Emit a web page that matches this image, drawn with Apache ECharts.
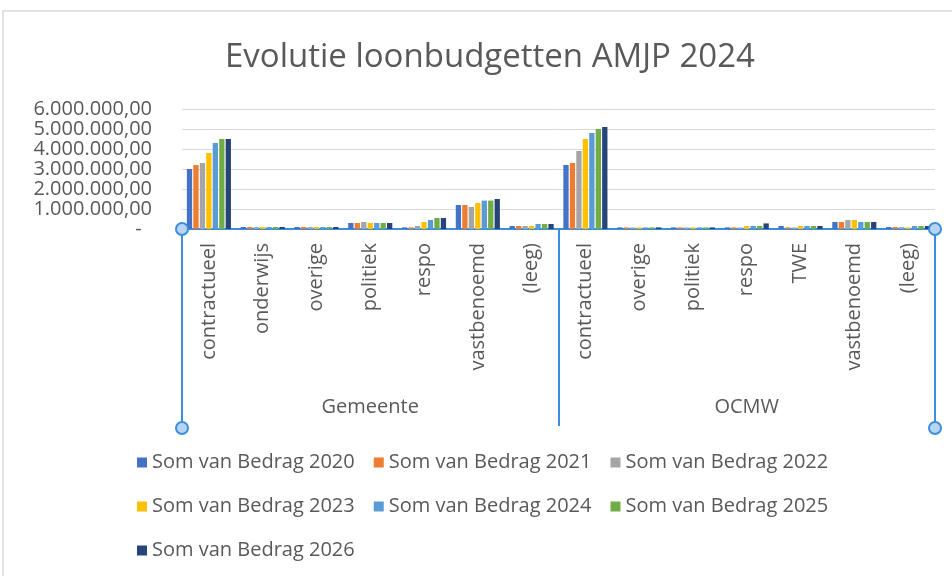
<!DOCTYPE html>
<html>
<head>
<meta charset="utf-8">
<script src="https://cdn.jsdelivr.net/npm/echarts@6/dist/echarts.min.js"></script>
<style>html,body{margin:0;padding:0;background:#fff}#c{width:952px;height:576px}</style>
</head>
<body>
<div id="c"></div>
<script>
var groups = ['Gemeente', 'OCMW'];
var gemeenteCats = ['contractueel', 'onderwijs', 'overige', 'politiek', 'respo', 'vastbenoemd', '(leeg)'];
var ocmwCats = ['contractueel', 'overige', 'politiek', 'respo', 'TWE', 'vastbenoemd', '(leeg)'];
var seriesNames = ['Som van Bedrag 2020', 'Som van Bedrag 2021', 'Som van Bedrag 2022', 'Som van Bedrag 2023', 'Som van Bedrag 2024', 'Som van Bedrag 2025', 'Som van Bedrag 2026'];
var yTicks = [0, 1000000, 2000000, 3000000, 4000000, 5000000, 6000000];

var bedrag2020 = [3000000, 100000, 100000, 300000, 80000, 1200000, 150000, 3200000, 80000, 80000, 80000, 150000, 350000, 100000];
var bedrag2021 = [3200000, 100000, 100000, 300000, 80000, 1200000, 150000, 3300000, 80000, 80000, 80000, 80000, 350000, 100000];
var bedrag2022 = [3300000, 100000, 100000, 350000, 150000, 1100000, 150000, 3900000, 80000, 80000, 80000, 80000, 450000, 100000];
var bedrag2023 = [3800000, 100000, 100000, 300000, 350000, 1300000, 150000, 4500000, 80000, 80000, 150000, 150000, 450000, 80000];
var bedrag2024 = [4300000, 100000, 100000, 300000, 450000, 1420000, 250000, 4800000, 80000, 80000, 150000, 150000, 350000, 150000];
var bedrag2025 = [4500000, 100000, 100000, 300000, 550000, 1420000, 250000, 5000000, 80000, 80000, 150000, 150000, 350000, 150000];
var bedrag2026 = [4500000, 100000, 100000, 300000, 550000, 1500000, 250000, 5100000, 80000, 80000, 280000, 150000, 350000, 150000];

var allValues = [bedrag2020, bedrag2021, bedrag2022, bedrag2023, bedrag2024, bedrag2025, bedrag2026];
var colors = ['#4472C4', '#ED7D31', '#A5A5A5', '#FFC000', '#5B9BD5', '#70AD47', '#264478'];

var catData = gemeenteCats.map(function (c) { return { value: 'Gemeente|' + c }; })
  .concat(ocmwCats.map(function (c) { return { value: 'OCMW|' + c }; }));

function nl(v) {
  if (v === 0) return '-  ';
  var s = Math.round(v).toString().replace(/\B(?=(\d{3})+(?!\d))/g, '.');
  return s + ',00';
}

var FONT = 'Open Sans';
var GREY = '#595959';
var SEL = '#3B8EDB';

var series = seriesNames.map(function (n, i) {
  return {
    name: n, type: 'bar', xAxisIndex: 0, yAxisIndex: 0,
    data: allValues[i], barCategoryGap: '18%', barGap: '22%',
    itemStyle: { color: colors[i] }
  };
});

var chart = echarts.init(document.getElementById('c'), null, { renderer: 'canvas' });
chart.setOption({
  animation: false,
  textStyle: { fontFamily: FONT },
  color: colors,
  title: {
    text: 'Evolutie loonbudgetten AMJP 2024',
    left: 220, top: 36,
    textStyle: { fontFamily: FONT, fontSize: 33, fontWeight: 'normal', color: GREY }
  },
  grid: { left: 182, right: 17, top: 109, bottom: 347, containLabel: false },
  legend: {
    data: seriesNames,
    left: 132, top: 445, width: 760,
    orient: 'horizontal',
    itemWidth: 10, itemHeight: 10, itemGap: 19,
    icon: 'rect',
    textStyle: { fontFamily: FONT, fontSize: 20, color: GREY, lineHeight: 25 }
  },
  xAxis: [
    {
      type: 'category', data: catData, position: 'bottom',
      axisLine: { show: true, lineStyle: { color: SEL, width: 2 } },
      axisTick: { show: false },
      axisLabel: {
        rotate: 90, interval: 0, margin: 14,
        fontFamily: FONT, fontSize: 20, color: GREY,
        formatter: function (v) { return v.split('|')[1]; }
      },
      splitLine: { show: false }
    },
    {
      type: 'category', data: groups, position: 'bottom', gridIndex: 0,
      axisLine: { show: false },
      axisTick: { show: true, interval: 0, length: 197, lineStyle: { color: SEL, width: 2 } },
      axisLabel: { interval: 0, margin: 168, fontFamily: FONT, fontSize: 20, color: GREY }
    }
  ],
  yAxis: {
    type: 'value', min: 0, max: 6000000, interval: 1000000,
    axisLine: { show: false }, axisTick: { show: false },
    splitLine: { lineStyle: { color: '#D9D9D9', width: 1 } },
    axisLabel: { margin: 30, fontFamily: FONT, fontSize: 20, color: GREY, formatter: nl }
  },
  series: series,
  graphic: [
    { type: 'rect', shape: { x: 3, y: 11, width: 1000, height: 700 }, style: { fill: 'none', stroke: '#D9D9D9', lineWidth: 1.5 }, silent: true, z: -10 },
    { type: 'circle', shape: { cx: 182, cy: 229, r: 6 }, style: { fill: '#B7D5F3', stroke: SEL, lineWidth: 2 }, z: 100 },
    { type: 'circle', shape: { cx: 935, cy: 229, r: 6 }, style: { fill: '#B7D5F3', stroke: SEL, lineWidth: 2 }, z: 100 },
    { type: 'circle', shape: { cx: 182, cy: 428, r: 6 }, style: { fill: '#B7D5F3', stroke: SEL, lineWidth: 2 }, z: 100 },
    { type: 'circle', shape: { cx: 935, cy: 428, r: 6 }, style: { fill: '#B7D5F3', stroke: SEL, lineWidth: 2 }, z: 100 }
  ]
});
</script>
</body>
</html>
